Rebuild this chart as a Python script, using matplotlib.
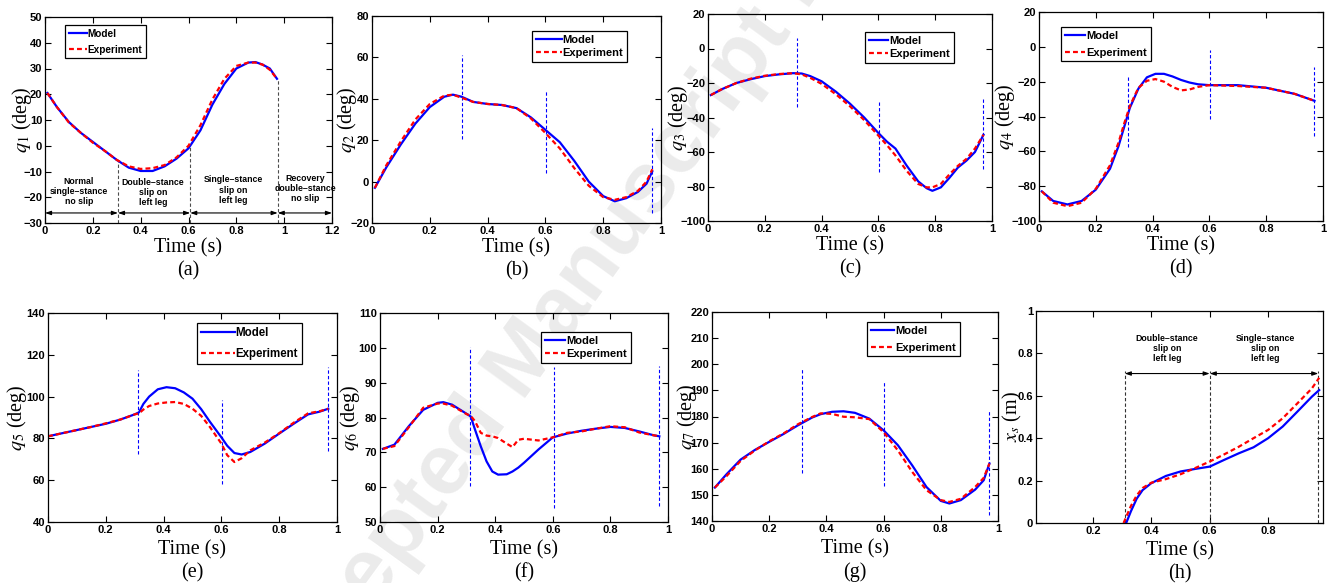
import matplotlib
matplotlib.use("Agg")
import matplotlib.pyplot as plt
from matplotlib.lines import Line2D

plt.rcParams["font.family"] = "Liberation Sans"
plt.rcParams["mathtext.fontset"] = "stix"

W, H = 1328, 583
BLUE = "#0000ff"
RED = "#ff0000"

# ---- data ----
t_a = [0.01, 0.05, 0.1, 0.15, 0.2, 0.25, 0.3, 0.35, 0.4, 0.45, 0.5, 0.55, 0.6,
       0.65, 0.7, 0.75, 0.8, 0.85, 0.88, 0.91, 0.94, 0.97]
model_a = [20.5, 15, 9.2, 5, 1.5, -2, -5.5, -8.5, -9.8, -9.8, -8, -5, -1, 6, 16,
           24, 30, 32.3, 32.5, 31.5, 30, 26]
exp_a = [20.5, 15, 9, 5, 1.2, -2, -5.5, -8, -9, -8.7, -7.5, -4.5, 0, 8, 18, 26,
         31, 32.3, 32.3, 31.5, 29.5, 26]

t_b = [0.01, 0.05, 0.1, 0.15, 0.2, 0.25, 0.28, 0.31, 0.35, 0.4, 0.45, 0.5, 0.55,
       0.6, 0.65, 0.7, 0.75, 0.8, 0.84, 0.88, 0.92, 0.95, 0.97]
model_b = [-3, 7, 18, 28, 36, 41, 42, 41, 38.5, 37.5, 37, 35.5, 31, 25, 19, 10, 0,
           -7, -9.5, -8, -5, -1, 5]
exp_b = [-3, 8, 19.5, 30, 37.5, 41.5, 42, 40.5, 38.5, 37.5, 37, 35.5, 30.5, 23.5,
         16, 6.5, -2, -7.5, -8.8, -7.5, -4.5, 0, 6]

t_c = [0.01, 0.05, 0.1, 0.15, 0.2, 0.25, 0.3, 0.33, 0.36, 0.4, 0.45, 0.5, 0.55,
       0.6, 0.63, 0.66, 0.7, 0.74, 0.77, 0.79, 0.82, 0.85, 0.88, 0.91, 0.94, 0.97]
model_c = [-27, -23.5, -20, -17.8, -16, -15, -14.3, -14.5, -16, -19, -25, -32, -40,
           -49, -54, -58, -68, -77, -81, -82.5, -80.5, -75, -69, -65, -60, -50]
exp_c = [-27, -23.5, -20, -17.5, -15.8, -14.8, -14.3, -15, -17, -20.5, -26.5, -33.5,
         -41.5, -50.5, -56, -62, -71, -78.5, -80.5, -80.5, -78.5, -73, -68, -64, -58, -50]

t_d = [0.01, 0.05, 0.1, 0.15, 0.2, 0.25, 0.28, 0.3, 0.32, 0.35, 0.38, 0.41, 0.44,
       0.47, 0.5, 0.53, 0.56, 0.6, 0.7, 0.8, 0.9, 0.97]
model_d = [-83, -88.5, -90.5, -88.5, -82, -70, -57, -46, -35, -24, -17.5, -15.5,
           -15.5, -17, -19, -20.5, -21.5, -22, -22, -23.5, -27, -31]
exp_d = [-83, -89.5, -91.5, -89.5, -81.5, -68, -55, -44, -34, -23.5, -19.5, -18.5,
         -20, -23, -25, -24.5, -23, -22, -22.5, -23.5, -27, -31]

t_e = [0.0, 0.05, 0.1, 0.15, 0.2, 0.25, 0.3, 0.315, 0.33, 0.35, 0.38, 0.41, 0.44,
       0.47, 0.5, 0.53, 0.56, 0.6, 0.62, 0.645, 0.67, 0.7, 0.75, 0.8, 0.85, 0.9,
       0.94, 0.97]
model_e = [81, 82.5, 84, 85.5, 87, 89, 91.5, 92.5, 96.5, 100, 103.5, 104.5, 104,
           102, 99, 94, 88, 80.5, 76.5, 73, 72.3, 73.5, 77.5, 82.3, 87, 91.5, 92.8, 94.2]
exp_e = [81, 82.5, 84, 85.5, 87.2, 89, 91.5, 92, 93.8, 95.5, 96.7, 97.2, 97.4, 96.5,
         94.2, 90.8, 85.5, 77.5, 72, 68.7, 70.5, 74.3, 78, 82.5, 87.5, 92, 93, 94.2]

t_f = [0.01, 0.05, 0.1, 0.15, 0.2, 0.22, 0.25, 0.3, 0.315, 0.33, 0.35, 0.37, 0.39,
       0.41, 0.44, 0.46, 0.48, 0.5, 0.55, 0.6, 0.65, 0.7, 0.75, 0.8, 0.85, 0.9,
       0.95, 0.97]
model_f = [71, 72.2, 77.5, 82.2, 84.2, 84.4, 83.7, 81.1, 80.3, 76.5, 71.7, 67.4,
           64.5, 63.6, 63.7, 64.5, 65.6, 67, 70.8, 74.3, 75.4, 76.2, 76.8, 77.3, 77,
           76, 74.9, 74.6]
exp_f = [71, 71.8, 77.2, 82.8, 84, 84, 83.4, 81, 80.5, 78.9, 75.6, 74.8, 74.6, 74.1,
         72.5, 71.5, 73.6, 73.9, 73.4, 74.3, 75.6, 76, 76.8, 77.5, 77.2, 75.7, 74.9, 74.6]

t_g = [0.01, 0.05, 0.1, 0.15, 0.2, 0.25, 0.3, 0.35, 0.38, 0.42, 0.46, 0.5, 0.55,
       0.6, 0.65, 0.7, 0.75, 0.8, 0.83, 0.87, 0.92, 0.95, 0.97]
model_g = [152.8, 157.8, 163.5, 167.2, 170.3, 173.3, 176.6, 179.6, 180.9, 181.8, 182,
           181.4, 179.2, 174.7, 169, 161.3, 153, 147.7, 146.7, 148, 152, 155.6, 162]
exp_g = [152.8, 157.1, 163, 167, 170.5, 173.5, 177, 179.8, 181.2, 181, 179.9, 179.7,
         179, 174, 167, 158.8, 151.8, 148, 147.3, 148.5, 153, 156.5, 162]

t_h_model = [0.314, 0.33, 0.35, 0.37, 0.4, 0.45, 0.5, 0.55, 0.6, 0.65, 0.7, 0.75,
             0.8, 0.85, 0.9, 0.95, 0.975]
model_h = [0.0, 0.055, 0.115, 0.155, 0.188, 0.222, 0.243, 0.255, 0.266, 0.298, 0.329,
           0.357, 0.4, 0.455, 0.525, 0.596, 0.627]
t_h_exp = [0.305, 0.33, 0.35, 0.37, 0.4, 0.45, 0.5, 0.55, 0.6, 0.65, 0.7, 0.75, 0.8,
           0.85, 0.9, 0.95, 0.975]
exp_h = [0.0, 0.08, 0.13, 0.165, 0.19, 0.207, 0.23, 0.259, 0.29, 0.324, 0.36, 0.4,
         0.439, 0.494, 0.564, 0.635, 0.685]

# phase switch times and the vertical markers (bottom, top) per panel
event_t = [0.313, 0.603, 0.97]
event_span = {
    "b": [(20.5, 61), (4, 44), (-15, 26)],
    "c": [(-34.2, 5.9), (-71.5, -31.3), (-69.6, -29.3)],
    "d": [(-57.5, -17.3), (-41.2, -1.6), (-51.4, -11.6)],
    "e": [(72.4, 112.6), (58.3, 98.2), (74, 114.2)],
    "f": [(60.2, 100.2), (54, 94.5), (54.5, 94.7)],
    "g": [(158.4, 198.3), (153.3, 193.6), (142.2, 182.6)],
}

phase_t_a = [0.305, 0.607, 0.973]
phase_top_a = [-5.5, 0, 26]
phase_edges_a = [0, 0.305, 0.607, 0.973, 1.2]
phase_text_a = ["Normal\nsingle\u2013stance\nno slip", "Double\u2013stance\nslip on\nleft leg",
                "Single\u2013stance\nslip on\nleft leg", "Recovery\ndouble\u2013stance\nno slip"]
phase_text_x_a = [0.142, 0.452, 0.787, 1.088]
phase_text_y_a = [-17.6, -18.3, -17.2, -16.6]

phase_t_h = [0.309, 0.6, 0.972]
phase_text_h = ["Double\u2013stance\nslip on\nleft leg", "Single\u2013stance\nslip on\nleft leg"]
phase_text_x_h = [0.454, 0.79]

xticks_a = [0, 0.2, 0.4, 0.6, 0.8, 1, 1.2]
xticks_q = [0, 0.2, 0.4, 0.6, 0.8, 1]
xticks_h = [0.2, 0.4, 0.6, 0.8]
yticks = {
    "a": [-30, -20, -10, 0, 10, 20, 30, 40, 50],
    "b": [-20, 0, 20, 40, 60, 80],
    "c": [-100, -80, -60, -40, -20, 0, 20],
    "d": [-100, -80, -60, -40, -20, 0, 20],
    "e": [40, 60, 80, 100, 120, 140],
    "f": [50, 60, 70, 80, 90, 100, 110],
    "g": [140, 150, 160, 170, 180, 190, 200, 210, 220],
    "h": [0, 0.2, 0.4, 0.6, 0.8, 1],
}

# ---- layout (pixel boxes: left, top, right, bottom) ----
boxes = {
    "a": (45, 17, 332, 223), "b": (372, 16, 661, 223),
    "c": (708, 14, 992, 221), "d": (1039, 12, 1323, 221),
    "e": (48, 313, 337, 522), "f": (380, 313, 668, 522),
    "g": (712, 312, 998, 521), "h": (1036, 311, 1323, 523),
}

fig = plt.figure(figsize=(W / 100, H / 100), dpi=100)

# faint journal watermark behind the panels
fig.text(280 / W, 1 - 735 / H, "Accepted Manuscript Not Copyedited", rotation=54,
         rotation_mode="anchor", ha="left", va="baseline", fontsize=62,
         color="#ebebeb", weight="bold", zorder=-5)

serif = dict(family="Liberation Serif", weight="normal")


def fmt(v):
    return f"{v:g}".replace("-", "\u2212")


def make_ax(key, xlim, ylim, xticks, ylab, ylab_px, xlab_off=25):
    l, t, r, b = boxes[key]
    ax = fig.add_axes([l / W, 1 - b / H, (r - l) / W, (b - t) / H])
    ax.set_facecolor("none")
    ax.set_xlim(*xlim)
    ax.set_ylim(*ylim)
    ax.set_xticks(xticks, [fmt(v) for v in xticks], fontweight="bold")
    ax.set_yticks(yticks[key], [fmt(v) for v in yticks[key]], fontweight="bold")
    ax.tick_params(direction="in", length=4, width=0.8, top=True, right=True,
                   labelsize=8, pad=2)
    for s in ax.spines.values():
        s.set_linewidth(0.9)
    ax.annotate("Time (s)", xy=(0.5, 0), xycoords="axes fraction",
                xytext=(0, -xlab_off), textcoords="offset pixels",
                ha="center", va="center", fontsize=14.5, **serif)
    ax.annotate(f"({key})", xy=(0.5, 0), xycoords="axes fraction",
                xytext=(0, -xlab_off - 23), textcoords="offset pixels",
                ha="center", va="center", fontsize=14.5, **serif)
    ax.annotate(ylab, xy=(0, 0.5), xycoords="axes fraction",
                xytext=(ylab_px - l, 0), textcoords="offset pixels",
                ha="center", va="center", rotation=90, fontsize=14.5, **serif)
    return ax


def plot_pair(ax, t_m, y_m, t_e, y_e):
    ax.plot(t_m, y_m, color=BLUE, lw=1.6)
    ax.plot(t_e, y_e, color=RED, lw=1.6, dashes=(2.2, 1.4))


def add_legend(ax, x, y, fs, hl, ls):
    handles = [Line2D([], [], color=BLUE, lw=1.6),
               Line2D([], [], color=RED, lw=1.6, dashes=(2.2, 1.4))]
    leg = ax.legend(handles, ["Model", "Experiment"], loc="upper left",
                    bbox_to_anchor=(x, y), prop=dict(size=fs, weight="bold"),
                    handlelength=hl, handletextpad=0.1, labelspacing=ls,
                    borderpad=0.35, borderaxespad=0, fancybox=False, framealpha=1)
    leg.get_frame().set_edgecolor("black")
    leg.get_frame().set_linewidth(0.9)


def add_events(ax, key):
    for x, (y0, y1) in zip(event_t, event_span[key]):
        ax.plot([x, x], [y0, y1], color=BLUE, lw=0.8, dashes=(3, 2))


def phase_arrow(ax, x0, x1, y):
    ax.annotate("", xy=(x1, y), xytext=(x0, y),
                arrowprops=dict(arrowstyle="<|-|>,head_length=0.35,head_width=0.12",
                                color="black", lw=0.8, shrinkA=0, shrinkB=0))


# (a)
ax = make_ax("a", (0, 1.2), (-30, 50), xticks_a, r"$q_1$ (deg)", 22)
for x, top in zip(phase_t_a, phase_top_a):
    ax.plot([x, x], [-30, top], color="0.3", lw=0.8, dashes=(3, 2))
for x0, x1 in zip(phase_edges_a[:-1], phase_edges_a[1:]):
    phase_arrow(ax, x0, x1, -26.1)
for s, x, y in zip(phase_text_a, phase_text_x_a, phase_text_y_a):
    ax.text(x, y, s, ha="center", va="center", fontsize=6.3, fontweight="bold",
            linespacing=1.15)
plot_pair(ax, t_a, model_a, t_a, exp_a)
add_legend(ax, 0.07, 0.961, 7.2, 1.8, 0.6)

# (b)
ax = make_ax("b", (0, 1), (-20, 80), xticks_q, r"$q_2$ (deg)", 347)
add_events(ax, "b")
plot_pair(ax, t_b, model_b, t_b, exp_b)
add_legend(ax, 0.554, 0.928, 8, 2.3, 0.3)

# (c)
ax = make_ax("c", (0, 1), (-100, 20), xticks_q, r"$q_3$ (deg)", 678)
add_events(ax, "c")
plot_pair(ax, t_c, model_c, t_c, exp_c)
add_legend(ax, 0.553, 0.913, 8, 1.7, 0.3)

# (d)
ax = make_ax("d", (0, 1), (-100, 20), xticks_q, r"$q_4$ (deg)", 1005)
add_events(ax, "d")
plot_pair(ax, t_d, model_d, t_d, exp_d)
add_legend(ax, 0.077, 0.928, 8, 1.8, 0.6)

# (e)
ax = make_ax("e", (0, 1), (40, 140), xticks_q, r"$q_5$ (deg)", 17, xlab_off=28)
add_events(ax, "e")
plot_pair(ax, t_e, model_e, t_e, exp_e)
add_legend(ax, 0.516, 0.952, 8.3, 2.9, 0.75)

# (f)
ax = make_ax("f", (0, 1), (50, 110), xticks_q, r"$q_6$ (deg)", 350, xlab_off=28)
add_events(ax, "f")
plot_pair(ax, t_f, model_f, t_f, exp_f)
add_legend(ax, 0.559, 0.909, 8, 1.8, 0.3)

# (g)
ax = make_ax("g", (0, 1), (140, 220), xticks_q, r"$q_7$ (deg)", 687, xlab_off=28)
add_events(ax, "g")
plot_pair(ax, t_g, model_g, t_g, exp_g)
add_legend(ax, 0.542, 0.952, 8, 2.1, 0.6)

# (h)
ax = make_ax("h", (0.005, 0.988), (0, 1), xticks_h, r"$x_s$ (m)", 1012, xlab_off=28)
for x in phase_t_h:
    ax.plot([x, x], [0, 0.715], color="0.2", lw=0.8, dashes=(3, 2))
phase_arrow(ax, phase_t_h[0], phase_t_h[1], 0.705)
phase_arrow(ax, phase_t_h[1], phase_t_h[2], 0.705)
for s, x in zip(phase_text_h, phase_text_x_h):
    ax.text(x, 0.825, s, ha="center", va="center", fontsize=6.3, fontweight="bold",
            linespacing=1.15)
plot_pair(ax, t_h_model, model_h, t_h_exp, exp_h)

fig.savefig("out.png", dpi=100)
